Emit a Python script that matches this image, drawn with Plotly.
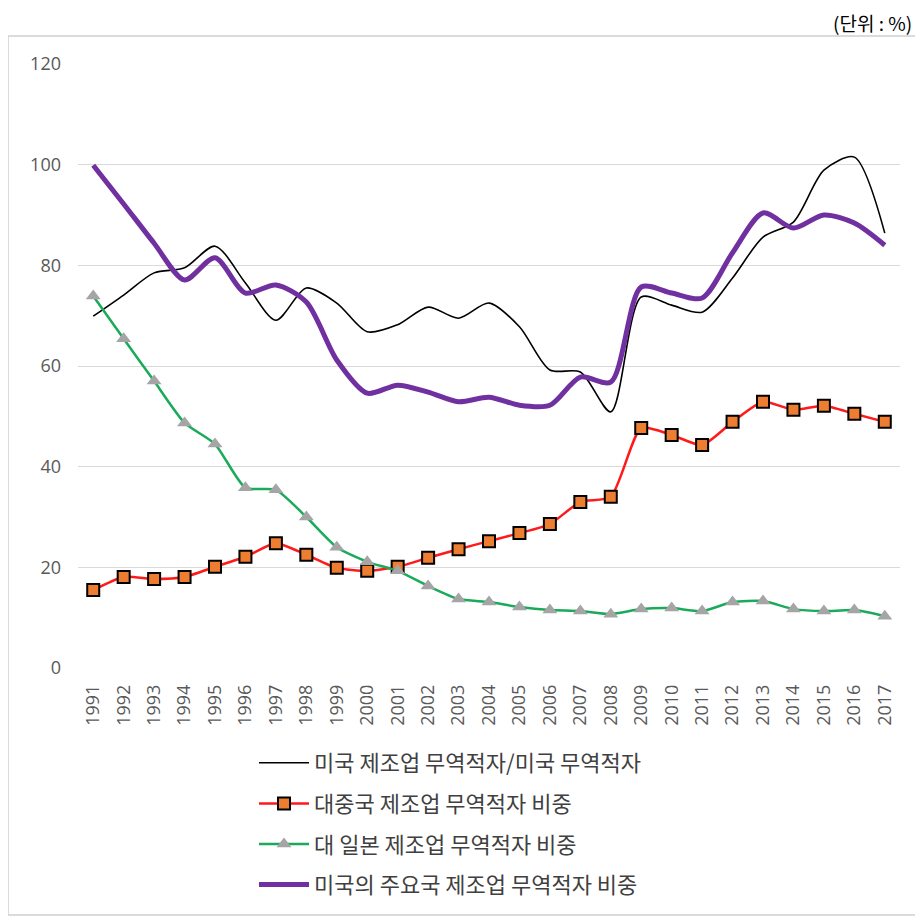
import plotly.graph_objects as go

# data (%)
years = [str(y) for y in range(1991, 2018)]

us_mfg_ratio = [69.9, 74.1, 78.5, 79.5, 83.8, 76.5, 69.1, 75.5, 72.5, 66.8,
                68.2, 71.7, 69.5, 72.5, 67.8, 59.2, 58.8, 50.9, 73.7, 72.1,
                70.7, 77.5, 85.6, 88.6, 98.9, 101.5, 86.4]
china_share = [15.5, 18.1, 17.7, 18.1, 20.1, 22.1, 24.8, 22.5, 19.9, 19.3,
               20.1, 21.9, 23.6, 25.2, 26.8, 28.6, 33.0, 34.0, 47.7, 46.3,
               44.3, 48.9, 52.9, 51.3, 52.1, 50.5, 48.9]
japan_share = [73.9, 65.4, 57.0, 48.7, 44.5, 35.8, 35.4, 30.0, 24.0, 21.1,
               19.3, 16.3, 13.7, 13.1, 12.1, 11.5, 11.3, 10.7, 11.7, 11.9,
               11.3, 13.1, 13.3, 11.7, 11.3, 11.5, 10.3]
major_share = [99.9, 92.2, 84.4, 77.1, 81.5, 74.5, 76.1, 72.7, 61.2, 54.6,
               56.2, 54.8, 52.9, 53.8, 52.2, 52.2, 57.8, 56.8, 75.7, 74.5,
               73.5, 82.5, 90.4, 87.4, 90.0, 88.4, 84.0]

names = ["미국 제조업 무역적자/미국 무역적자",
         "대중국 제조업 무역적자 비중",
         "대 일본 제조업 무역적자 비중",
         "미국의 주요국 제조업 무역적자 비중"]

num_font = "Open Sans, Liberation Sans, sans-serif"
kr_font = "Noto Sans CJK KR, sans-serif"

# the page body adds an 8px margin, so the figure is 8px smaller each way
W, H = 915, 913
PW, PH = 822, 604   # plot area size in px

fig = go.Figure()

fig.add_trace(go.Scatter(
    x=years, y=us_mfg_ratio, name=names[0], legendgroup="a",
    mode="lines", line=dict(color="black", width=1.6, shape="spline", smoothing=0.8)))

fig.add_trace(go.Scatter(
    x=years, y=china_share, name=names[1], legendgroup="b",
    mode="lines+markers", line=dict(color="#ff1a1a", width=2.5, shape="spline", smoothing=0.6),
    marker=dict(symbol="square", size=12, color="#ed7d31", line=dict(color="black", width=2))))

fig.add_trace(go.Scatter(
    x=years, y=japan_share, name=names[2], legendgroup="c",
    mode="lines+markers", line=dict(color="#1aaa5a", width=2.5, shape="spline", smoothing=0.6),
    marker=dict(symbol="triangle-up", size=13, color="#a5a5a5")))

fig.add_trace(go.Scatter(
    x=years, y=major_share, name=names[3], legendgroup="d",
    mode="lines", line=dict(color="#7030a0", width=5, shape="spline", smoothing=0.8)))

fig.update_layout(
    width=W, height=H,
    margin=dict(l=70, r=W - 70 - PW, t=56, b=H - 56 - PH, autoexpand=False),
    plot_bgcolor="white", paper_bgcolor="white",
    font=dict(family=num_font, color="#595959"),
    showlegend=True,
    legend=dict(
        xref="container", yref="container",
        x=(254 - 8) / W, y=1 - (742 - 8) / H, xanchor="left", yanchor="top",
        orientation="v", tracegroupgap=9,
        font=dict(family=kr_font, size=22, color="#404040"),
        itemwidth=50, bgcolor="rgba(0,0,0,0)",
    ),
    xaxis=dict(
        type="category", range=[-0.5, len(years) - 0.5], tickangle=-90, showgrid=False,
        tickfont=dict(size=18, color="#595959"),
        ticks="", showline=False, automargin=False, ticklabelstandoff=12,
    ),
    yaxis=dict(
        range=[0, 120], dtick=20, showgrid=True, gridcolor="#d9d9d9", gridwidth=1.3,
        tickfont=dict(size=18, color="#595959"), zeroline=False,
        automargin=False, ticklabelstandoff=16,
    ),
    shapes=[dict(type="rect", xref="paper", yref="paper",
                 x0=-70 / PW, x1=1 + 20 / PW, y0=-247 / PH, y1=1 + 28 / PH,
                 line=dict(color="#d0d0d0", width=1.5), fillcolor="rgba(0,0,0,0)",
                 layer="below")],
    annotations=[dict(text="(단위 : %)", xref="paper", yref="paper",
                      x=1 + 14 / PW, y=1 + 41 / PH, xanchor="right", yanchor="middle",
                      showarrow=False, font=dict(family=kr_font, size=19, color="black"))],
)

fig.write_html("out.html")
